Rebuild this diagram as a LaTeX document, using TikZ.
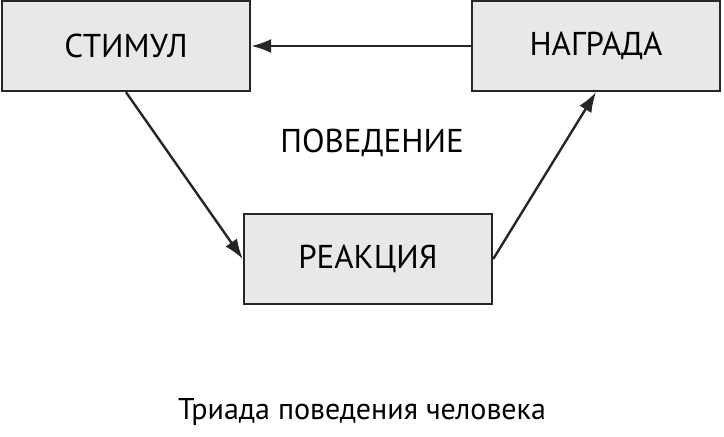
\documentclass[tikz,border=0pt]{standalone}
\usepackage{fontspec}
\setmainfont{PT Sans}
\usetikzlibrary{arrows.meta}
\begin{document}
\begin{tikzpicture}[x=1pt,y=-1pt,
  box/.style={draw=black!85,line width=2.4pt,fill=black!9,minimum width=248pt,minimum height=90pt,inner sep=0pt,font=\fontsize{33}{36}\selectfont},
  lbl/.style={font=\fontsize{33}{36}\selectfont},
  arr/.style={-{Latex[length=20pt,width=14pt]},line width=2.4pt,draw=black!85}]
\useasboundingbox (0,0) rectangle (724,437);
\node[box] (s) at (126,46) {СТИМУЛ};
\node[box] (n) at (596,46) {НАГРАДА};
\node[box] (r) at (368,259) {РЕАКЦИЯ};
\node[lbl] (p) at (372,143) {ПОВЕДЕНИЕ};
\node[font=\fontsize{30}{33}\selectfont] (c) at (362,412) {Триада поведения человека};
\draw[arr] (n.west) -- (s.east);
\draw[arr] (s.south) -- (r.west);
\draw[arr] (r.east) -- (n.south);
\end{tikzpicture}
\end{document}
